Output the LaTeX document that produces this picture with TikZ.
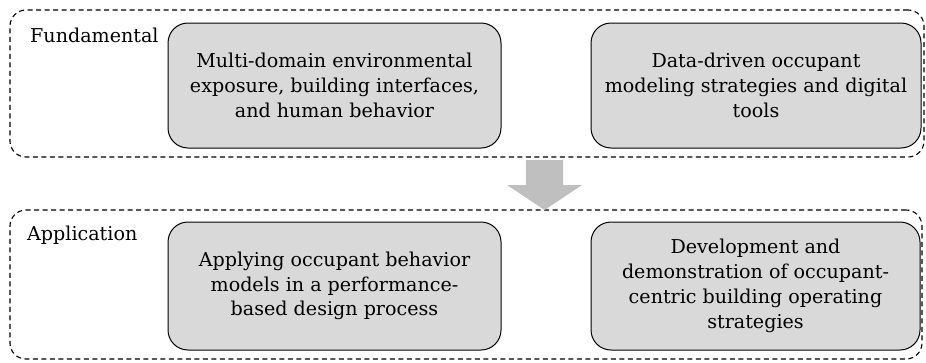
\documentclass[tikz,border=0pt]{standalone}
\usepackage{fontspec}
\setmainfont{DejaVu Serif}
\begin{document}
\begin{tikzpicture}[x=1pt,y=-1pt,
  container/.style={draw=black, line width=1.1pt, dash pattern=on 5pt off 3.5pt, rounded corners=16pt, inner sep=0pt},
  topicbox/.style={draw=black, line width=1pt, fill=boxgray, rounded corners=20pt, align=center, inner sep=0pt, font=\fontsize{19.1}{24.8}\selectfont},
  grouplabel/.style={anchor=west, inner sep=0pt, font=\fontsize{19.1}{24}\selectfont}]
\definecolor{boxgray}{HTML}{D9D9D9}
\definecolor{arrowgray}{HTML}{BFBFBF}
\useasboundingbox (0,0) rectangle (926,362);
% containers
\node[container, minimum width=914pt, minimum height=147pt] (fund) at (467,83.5) {};
\node[container, minimum width=912pt, minimum height=149pt] (appl) at (466,284.5) {};
% labels
\node[grouplabel] (lfund) at (30,35) {Fundamental};
\node[grouplabel] (lappl) at (27,235) {Application};
% boxes
\node[topicbox, minimum width=333pt, minimum height=125pt] (b1) at (334.5,85.5) {Multi-domain environmental\\exposure, building interfaces,\\and human behavior};
\node[topicbox, minimum width=330pt, minimum height=125pt] (b2) at (756,85.5) {Data-driven occupant\\modeling strategies and digital\\tools};
\node[topicbox, minimum width=333pt, minimum height=128pt] (b3) at (334.5,286) {Applying occupant behavior\\models in a performance-\\based design process};
\node[topicbox, minimum width=329pt, minimum height=128pt] (b4) at (755.5,286) {Development and\\demonstration of occupant-\\centric building operating\\strategies};
% block arrow from the Fundamental group to the Application group
\fill[arrowgray] (526,160) -- (563,160) -- (563,185) -- (582,185) -- (544.5,210) -- (507,185) -- (526,185) -- cycle;
\end{tikzpicture}
\end{document}
